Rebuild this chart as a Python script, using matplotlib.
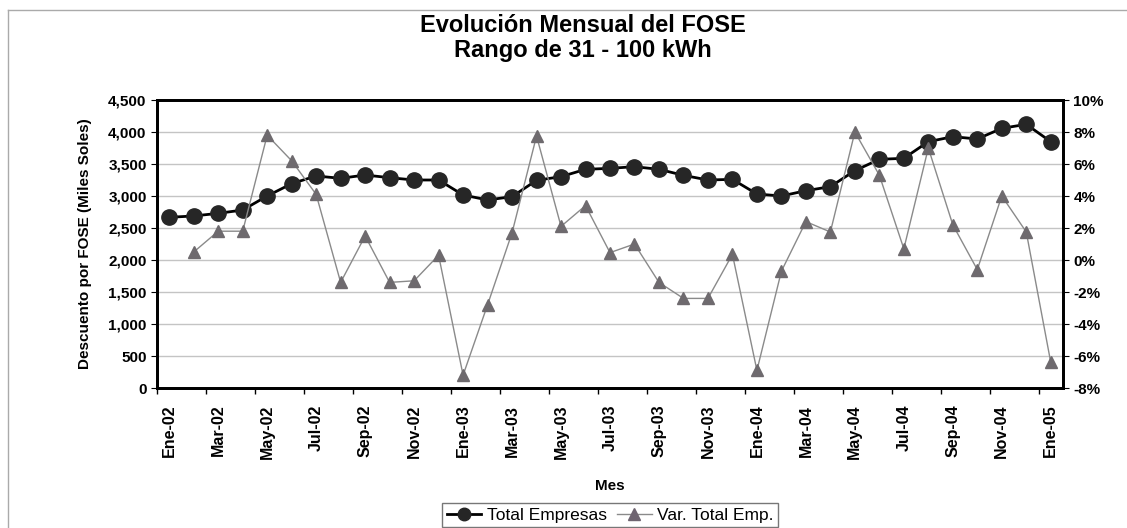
#!/usr/bin/env python3
import matplotlib
matplotlib.use('Agg')
import matplotlib.pyplot as plt  # noqa
from matplotlib.lines import Line2D  # noqa
from matplotlib.ticker import FixedLocator, FuncFormatter  # noqa

plt.rcParams.update({
    'font.family': ['Liberation Sans', 'DejaVu Sans'],
    'font.weight': 'bold',
    'axes.labelweight': 'bold',
})

MESES = ['Ene', 'Feb', 'Mar', 'Abr', 'May', 'Jun',
         'Jul', 'Ago', 'Sep', 'Oct', 'Nov', 'Dic']
years = ['02', '03', '04', '05']
months = [m + '-' + y for y in years for m in MESES][:37]

# Descuento por FOSE (miles de soles)
total_empresas = [
    2667, 2688, 2729, 2781, 3000, 3193, 3313, 3276, 3328, 3286, 3250, 3250,
    3016, 2938, 2990, 3245, 3302, 3417, 3432, 3458, 3417, 3323, 3250, 3260,
    3031, 3000, 3083, 3146, 3396, 3573, 3589, 3849, 3927, 3891, 4057, 4120,
    3849,
]
# variacion mensual (%), no hay valor para el primer mes
var_total = [
    None, 0.5, 1.8, 1.8, 7.8, 6.2, 4.1, -1.4, 1.5, -1.4, -1.3, 0.3,
    -7.2, -2.8, 1.7, 7.75, 2.1, 3.4, 0.46, 1.0, -1.4, -2.4, -2.4, 0.35,
    -6.9, -0.7, 2.4, 1.75, 8.0, 5.3, 0.7, 7.0, 2.2, -0.6, 4.0, 1.75,
    -6.4,
]

left_ticks = list(range(0, 4501, 500))
right_ticks = list(range(-8, 11, 2))


def plot(out):
    fig = plt.figure(figsize=(11.27, 5.28), dpi=100)
    ax = fig.add_axes([157 / 1127, 140 / 528, 906 / 1127, 288 / 528])
    ax2 = ax.twinx()

    x = list(range(len(months)))
    ax.plot(x, total_empresas, color='black', lw=2, marker='o', ms=11,
            mfc='#262626', mec='#262626', zorder=3)
    vx = [i for i, v in zip(x, var_total) if v is not None]
    vy = [v for v in var_total if v is not None]
    ax2.plot(vx, vy, color='#8a8a8a', lw=1, marker='^', ms=9,
             mfc='#6e6a6e', mec='#6e6a6e')

    ax.set_xlim(-0.5, len(months) - 0.5)
    ax.set_ylim(0, 4500)
    ax2.set_ylim(-8, 10)

    ax.yaxis.set_major_locator(FixedLocator(left_ticks))
    ax.yaxis.set_major_formatter(FuncFormatter(lambda v, p: f'{v:,.0f}'))
    ax2.yaxis.set_major_locator(FixedLocator(right_ticks))
    ax2.yaxis.set_major_formatter(FuncFormatter(lambda v, p: f'{v:.0f}%'))
    ax.grid(axis='y', color='#c4c4c4', lw=1)
    ax.set_axisbelow(True)

    # ticks between categories, labels on every other month
    ax.set_xticks([i - 0.5 for i in range(0, len(months) + 1, 2)])
    ax.set_xticklabels([])
    ax.set_xticks(x[::2], minor=True)
    ax.set_xticklabels(months[::2], minor=True, rotation=90, fontsize=11.5)
    ax.tick_params(axis='x', which='minor', length=0, pad=12)
    ax.tick_params(axis='x', which='major', length=4, width=1)
    ax.tick_params(axis='y', length=4, labelsize=11)
    ax2.tick_params(axis='y', length=4, labelsize=11)

    for a in (ax, ax2):
        for s in a.spines.values():
            s.set_linewidth(2)

    ax.set_xlabel('Mes', fontsize=11, labelpad=14)
    ax.set_ylabel('Descuento por FOSE (Miles Soles)', fontsize=11,
                  labelpad=12)

    fig.text(583 / 1127, 1 - 25 / 528, 'Evolución Mensual del FOSE',
             ha='center', va='center', fontsize=17)
    fig.text(583 / 1127, 1 - 51 / 528, 'Rango de 31 - 100 kWh',
             ha='center', va='center', fontsize=17)

    handles = [
        Line2D([], [], color='black', lw=2, marker='o', ms=9,
               mfc='#262626', mec='#262626'),
        Line2D([], [], color='#8a8a8a', lw=1, marker='^', ms=9,
               mfc='#6e6470', mec='#6e6470'),
    ]
    fig.legend(handles, ['Total Empresas', 'Var. Total Emp.'], ncol=2,
               loc='lower center', bbox_to_anchor=(610 / 1127, 1 / 528),
               frameon=True, fancybox=False, edgecolor='#555555',
               handlelength=2, handletextpad=0.3, columnspacing=0.6,
               borderpad=0.25, borderaxespad=0,
               prop={'size': 12.5, 'weight': 'normal'})

    # thin outer frame, top and left only as in the scan
    fig.add_artist(Line2D([8 / 1127, 1], [1 - 10 / 528, 1 - 10 / 528],
                          transform=fig.transFigure, color='#aaaaaa', lw=1))
    fig.add_artist(Line2D([8 / 1127, 8 / 1127], [0, 1 - 10 / 528],
                          transform=fig.transFigure, color='#aaaaaa', lw=1))

    fig.savefig(out, dpi=100)


if __name__ == '__main__':
    plot('out.png')
